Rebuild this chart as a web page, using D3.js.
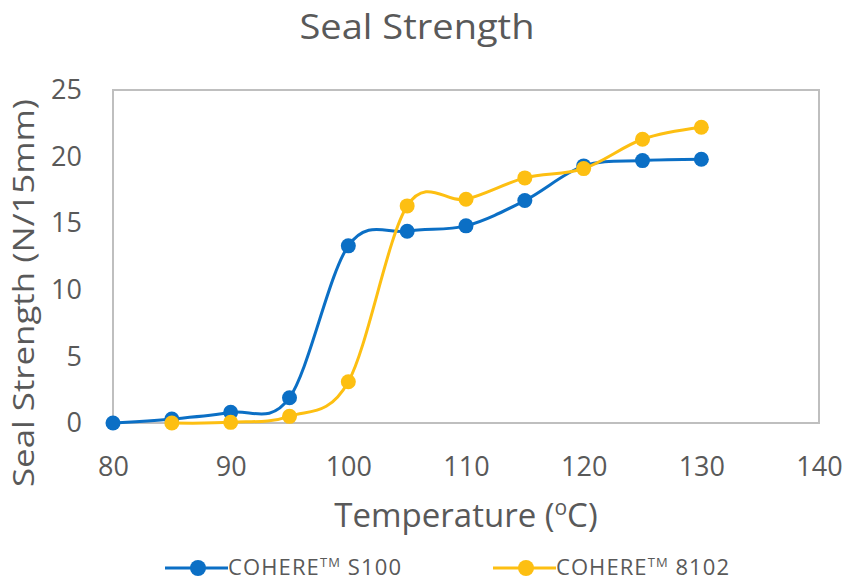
<!DOCTYPE html>
<html><head><meta charset="utf-8">
<script src="https://cdn.jsdelivr.net/npm/d3@7"></script>
<style>body{margin:0;background:#fff}svg{display:block}</style>
</head><body>
<svg id="c" width="846" height="581"></svg>
<script>
const temps = [80, 85, 90, 95, 100, 105, 110, 115, 120, 125, 130];
const s100 = [0.0, 0.3, 0.8, 1.9, 13.3, 14.4, 14.8, 16.7, 19.3, 19.7, 19.8];
const temps8102 = [85, 90, 95, 100, 105, 110, 115, 120, 125, 130];
const v8102 = [0.0, 0.05, 0.5, 3.1, 16.3, 16.8, 18.4, 19.1, 21.3, 22.2];
const xTicks = [80, 90, 100, 110, 120, 130, 140];
const yTicks = [0, 5, 10, 15, 20, 25];
const seriesNames = ["COHERE", "COHERE"];
const seriesSuffix = [" S100", " 8102"];
const colors = ["#0b6fc5", "#fdbf12"];

const svg = d3.select("#c");
const font = "'Open Sans', 'Noto Sans', sans-serif";
const grey = "#595959";
const L = 113, R = 819, T = 90, B = 423;
const x = d3.scaleLinear().domain([80, 140]).range([L, R]);
const y = d3.scaleLinear().domain([0, 25]).range([B, T]);

svg.append("rect").attr("x", L).attr("y", T).attr("width", R - L).attr("height", B - T)
  .attr("fill", "none").attr("stroke", "#bfbfbf").attr("stroke-width", 2);

const xa = svg.append("g").attr("transform", `translate(0,${B})`)
  .call(d3.axisBottom(x).tickValues(xTicks).tickSize(0).tickPadding(34));
xa.select(".domain").remove();
xa.selectAll("text").attr("font-family", font).attr("font-size", 27).attr("fill", grey);

const ya = svg.append("g").attr("transform", `translate(${L},0)`)
  .call(d3.axisLeft(y).tickValues(yTicks).tickSize(0).tickPadding(31));
ya.select(".domain").remove();
ya.selectAll("text").attr("font-family", font).attr("font-size", 27).attr("fill", grey);

const data = [
  temps.map((t, i) => [t, s100[i]]),
  temps8102.map((t, i) => [t, v8102[i]])
];
const line = d3.line().x(d => x(d[0])).y(d => y(d[1])).curve(d3.curveCatmullRom.alpha(0));
data.forEach((d, k) => {
  svg.append("path").datum(d).attr("d", line).attr("fill", "none")
    .attr("stroke", colors[k]).attr("stroke-width", 3);
  svg.append("g").selectAll("circle").data(d).join("circle")
    .attr("cx", p => x(p[0])).attr("cy", p => y(p[1])).attr("r", 7.5)
    .attr("fill", colors[k]);
});

svg.append("text").attr("x", 417).attr("y", 39).attr("text-anchor", "middle")
  .attr("font-family", font).attr("font-size", 35).attr("fill", grey)
  .attr("textLength", 235).attr("lengthAdjust", "spacingAndGlyphs").text("Seal Strength");

const xl = svg.append("text").attr("x", 466).attr("y", 527).attr("text-anchor", "middle")
  .attr("font-family", font).attr("font-size", 33).attr("fill", grey);
xl.append("tspan").text("Temperature (");
xl.append("tspan").attr("font-size", 21).attr("dy", -12).text("o");
xl.append("tspan").attr("dy", 12).text("C)");

svg.append("text").attr("transform", "translate(34,293) rotate(-90)").attr("text-anchor", "middle")
  .attr("font-family", font).attr("font-size", 30).attr("fill", grey)
  .attr("textLength", 388).attr("lengthAdjust", "spacingAndGlyphs").text("Seal Strength (N/15mm)");

const legX = [165, 493];
legX.forEach((lx, k) => {
  const g = svg.append("g");
  g.append("line").attr("x1", lx).attr("x2", lx + 63).attr("y1", 568).attr("y2", 568)
    .attr("stroke", colors[k]).attr("stroke-width", 3);
  g.append("circle").attr("cx", lx + 33).attr("cy", 568).attr("r", 8).attr("fill", colors[k]);
  const t = g.append("text").attr("x", lx + 63).attr("y", 575)
    .attr("font-family", font).attr("font-size", 22).attr("fill", grey)
    .attr("textLength", 173).attr("lengthAdjust", "spacing");
  t.append("tspan").text(seriesNames[k]);
  t.append("tspan").attr("font-size", 13).attr("dy", -8).text("TM");
  t.append("tspan").attr("dy", 8).text(seriesSuffix[k]);
});
</script>
</body></html>
